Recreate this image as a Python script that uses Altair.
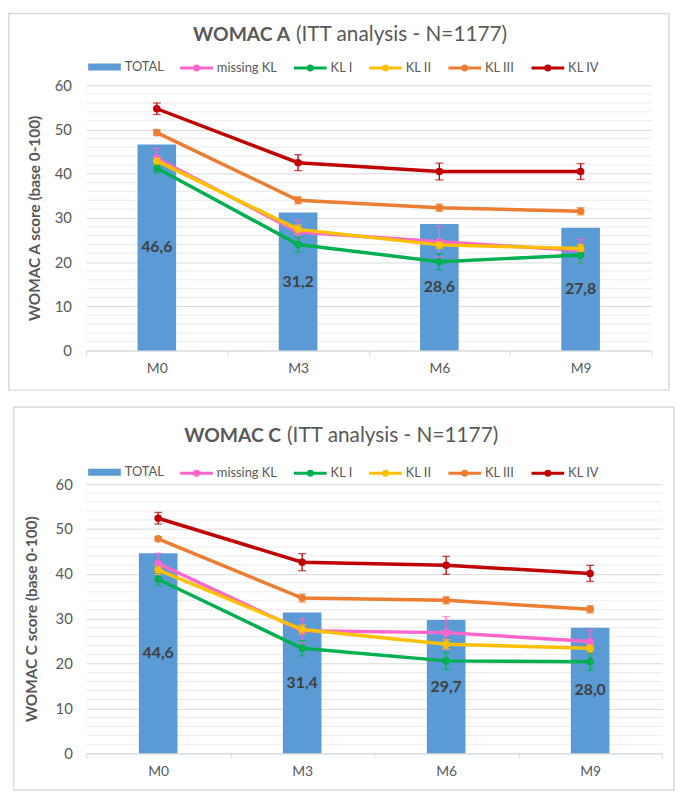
import altair as alt
import pandas as pd

months = ["M0", "M3", "M6", "M9"]
series = ["missing KL", "KL I", "KL II", "KL III", "KL IV"]
line_colors = ["#FF66CC", "#00B050", "#FFC000", "#ED7D31", "#C00000"]
bar_color = "#5B9BD5"
y_ticks = [0, 10, 20, 30, 40, 50, 60]

# WOMAC A
a_total = [46.6, 31.2, 28.6, 27.8]
a_missing = [43.5, 26.8, 24.6, 22.6]
a_kl1 = [41.3, 24.0, 20.1, 21.6]
a_kl2 = [42.9, 27.4, 23.9, 23.1]
a_kl3 = [49.3, 34.0, 32.3, 31.5]
a_kl4 = [54.7, 42.5, 40.5, 40.5]
a_missing_err = [2.3, 2.7, 3.5, 2.6]
a_kl1_err = [1.1, 1.7, 1.8, 1.8]
a_kl2_err = [1.0, 1.0, 0.8, 0.9]
a_kl3_err = [0.7, 0.8, 0.8, 0.8]
a_kl4_err = [1.3, 1.8, 1.9, 1.8]

# WOMAC C
c_total = [44.6, 31.4, 29.7, 28.0]
c_missing = [42.3, 27.3, 26.9, 24.9]
c_kl1 = [38.8, 23.4, 20.6, 20.4]
c_kl2 = [40.9, 27.6, 24.3, 23.4]
c_kl3 = [47.8, 34.6, 34.1, 32.1]
c_kl4 = [52.4, 42.6, 41.9, 40.1]
c_missing_err = [2.3, 2.7, 3.6, 2.6]
c_kl1_err = [1.4, 1.7, 1.9, 1.9]
c_kl2_err = [1.0, 1.0, 1.0, 0.9]
c_kl3_err = [0.5, 0.9, 0.8, 0.8]
c_kl4_err = [1.3, 1.9, 2.0, 1.8]

TXT = "#595959"
FONT = "Lato"
LINE_SYMBOL = "M-1,0L1,0M0.12,0A0.12,0.12,0,1,1,-0.12,0A0.12,0.12,0,1,1,0.12,0Z"
RECT_SYMBOL = "M-1,-0.21H1V0.21H-1Z"


def panel(total, means, errs, bold_title, ytitle, W, H, cfg):
    bars_df = pd.DataFrame({"month": months, "total": total, "kind": ["TOTAL"] * 4})
    rows = []
    for s, m, e in zip(series, means, errs):
        for mo, v, er in zip(months, m, e):
            rows.append({"month": mo, "series": s, "grp": s, "value": v,
                         "lo": v - er, "hi": v + er})
    lines_df = pd.DataFrame(rows)

    xscale = alt.Scale(domain=months, paddingInner=0, paddingOuter=0)
    yscale = alt.Scale(domain=[0, 60], nice=False)
    xaxis = alt.Axis(title=None, labelAngle=0, tickBand="extent", domainColor="#d9d9d9",
                     tickColor="#d9d9d9", tickSize=5, labelFont=FONT, labelFontSize=14,
                     labelColor=TXT, labelPadding=6, grid=False)
    yaxis = alt.Axis(values=y_ticks, title=ytitle, grid=True, gridColor="#d9d9d9",
                     domain=False, ticks=False, labelPadding=cfg["lpad"], labelFont=FONT,
                     labelFontSize=15, labelColor=TXT, titleFont=FONT, titleFontWeight="bold",
                     titleFontSize=15.5, titleColor=TXT, titleAngle=-90, titleX=cfg["tx"],
                     titleY=H / 2, titleAlign="center", titleBaseline="middle")
    X = alt.X("month:N", scale=xscale, axis=xaxis)
    # colour scale for points / error bars (domain listed in reverse so that it is
    # not merged with the stroke legend of the lines)
    col = alt.Color("grp:N", scale=alt.Scale(domain=series[::-1], range=line_colors[::-1]),
                    legend=None)

    minor = alt.Chart(pd.DataFrame({"g": list(range(0, 61, 2))})).transform_filter(
        "datum.g % 10 != 0").mark_rule(color="#ebebeb", strokeWidth=1).encode(
        y=alt.Y("g:Q", scale=yscale, axis=yaxis))

    bars = alt.Chart(bars_df).mark_bar(size=39).encode(
        x=X, y=alt.Y("total:Q", scale=yscale, axis=yaxis),
        fill=alt.Fill("kind:N", scale=alt.Scale(domain=["TOTAL"], range=[bar_color]),
                      legend=alt.Legend(title=None, orient="none", legendX=2, legendY=cfg["ly"] + 0.5,
                                        symbolType=RECT_SYMBOL, symbolSize=1089,
                                        symbolStrokeWidth=0, labelFont=FONT, labelFontSize=13,
                                        labelColor=TXT, labelOffset=4, padding=0,
                                        direction="horizontal")))

    labels = alt.Chart(bars_df).transform_calculate(
        mid="datum.total / 2",
        lab="replace(format(datum.total, '.1f'), '.', ',')").mark_text(
        font=FONT, fontWeight="bold", fontSize=16, color="#404040", baseline="middle").encode(
        x=X, y=alt.Y("mid:Q", scale=yscale, axis=yaxis), text="lab:N")

    lg = alt.Legend(title=None, orient="none", legendX=93.5, legendY=cfg["ly"],
                    symbolType=LINE_SYMBOL, symbolSize=1089, symbolStrokeWidth=3,
                    labelFont=FONT, labelFontSize=13, labelColor=TXT, labelOffset=2.5,
                    columnPadding=10, columns=5, padding=0, direction="horizontal")

    base = alt.Chart(lines_df)
    err = base.mark_rule(strokeWidth=1.3).encode(
        x=X, y=alt.Y("lo:Q", scale=yscale, axis=yaxis), y2="hi:Q", color=col)
    cap_lo = base.mark_tick(thickness=1.3, size=8).encode(
        x=X, y=alt.Y("lo:Q", scale=yscale, axis=yaxis), color=col)
    cap_hi = base.mark_tick(thickness=1.3, size=8).encode(
        x=X, y=alt.Y("hi:Q", scale=yscale, axis=yaxis), color=col)
    lines = base.mark_line(strokeWidth=3.5).encode(
        x=X, y=alt.Y("value:Q", scale=yscale, axis=yaxis),
        stroke=alt.Stroke("series:N", scale=alt.Scale(domain=series, range=line_colors),
                          legend=lg))
    pts = base.mark_circle(size=58, opacity=1).encode(
        x=X, y=alt.Y("value:Q", scale=yscale, axis=yaxis), color=col)

    one = alt.Data(values=[{}])
    t1 = alt.Chart(one).mark_text(text=bold_title, align="right", baseline="middle", font=FONT,
                                  fontWeight="bold", fontSize=19.5, color=TXT).encode(
        x=alt.value(cfg["t1x"]), y=alt.value(cfg["ty"]))
    t2 = alt.Chart(one).mark_text(text="(ITT analysis - N=1177)", align="left", baseline="middle",
                                  font=FONT, fontSize=21, color=TXT).encode(
        x=alt.value(cfg["t1x"] + 6), y=alt.value(cfg["ty"]))
    frame = alt.Chart(one).mark_rect(fill="transparent", stroke="#d9d9d9", strokeWidth=1.5).encode(
        x=alt.value(cfg["fx"]), x2=alt.value(cfg["fx2"]),
        y=alt.value(cfg["fy"]), y2=alt.value(cfg["fy2"]))

    return alt.layer(minor, bars, labels, err, cap_lo, cap_hi, lines, pts, t1, t2, frame).properties(
        width=W, height=H)


pa = panel(a_total, [a_missing, a_kl1, a_kl2, a_kl3, a_kl4],
           [a_missing_err, a_kl1_err, a_kl2_err, a_kl3_err, a_kl4_err],
           "WOMAC A", "WOMAC A score (base 0-100)", 571, 268,
           dict(lpad=15, tx=-52, ly=-35.5, t1x=206, ty=-51, fx=-78.25, fx2=589, fy=-72.5, fy2=308))
pc = panel(c_total, [c_missing, c_kl1, c_kl2, c_kl3, c_kl4],
           [c_missing_err, c_kl1_err, c_kl2_err, c_kl3_err, c_kl4_err],
           "WOMAC C", "WOMAC C score (base 0-100)", 582, 272,
           dict(lpad=14, tx=-55, ly=-29, t1x=197, ty=-49, fx=-73.25, fx2=594, fy=-78, fy2=309))

chart = alt.concat(pa, pc, columns=1, spacing=15, align="none").resolve_scale(
    x="independent", y="independent", fill="independent", stroke="independent",
    color="independent").resolve_legend(fill="independent", stroke="independent").properties(
    padding=0).configure_view(stroke=None)

chart.save("out.html", embed_options={"renderer": "svg", "actions": False})
